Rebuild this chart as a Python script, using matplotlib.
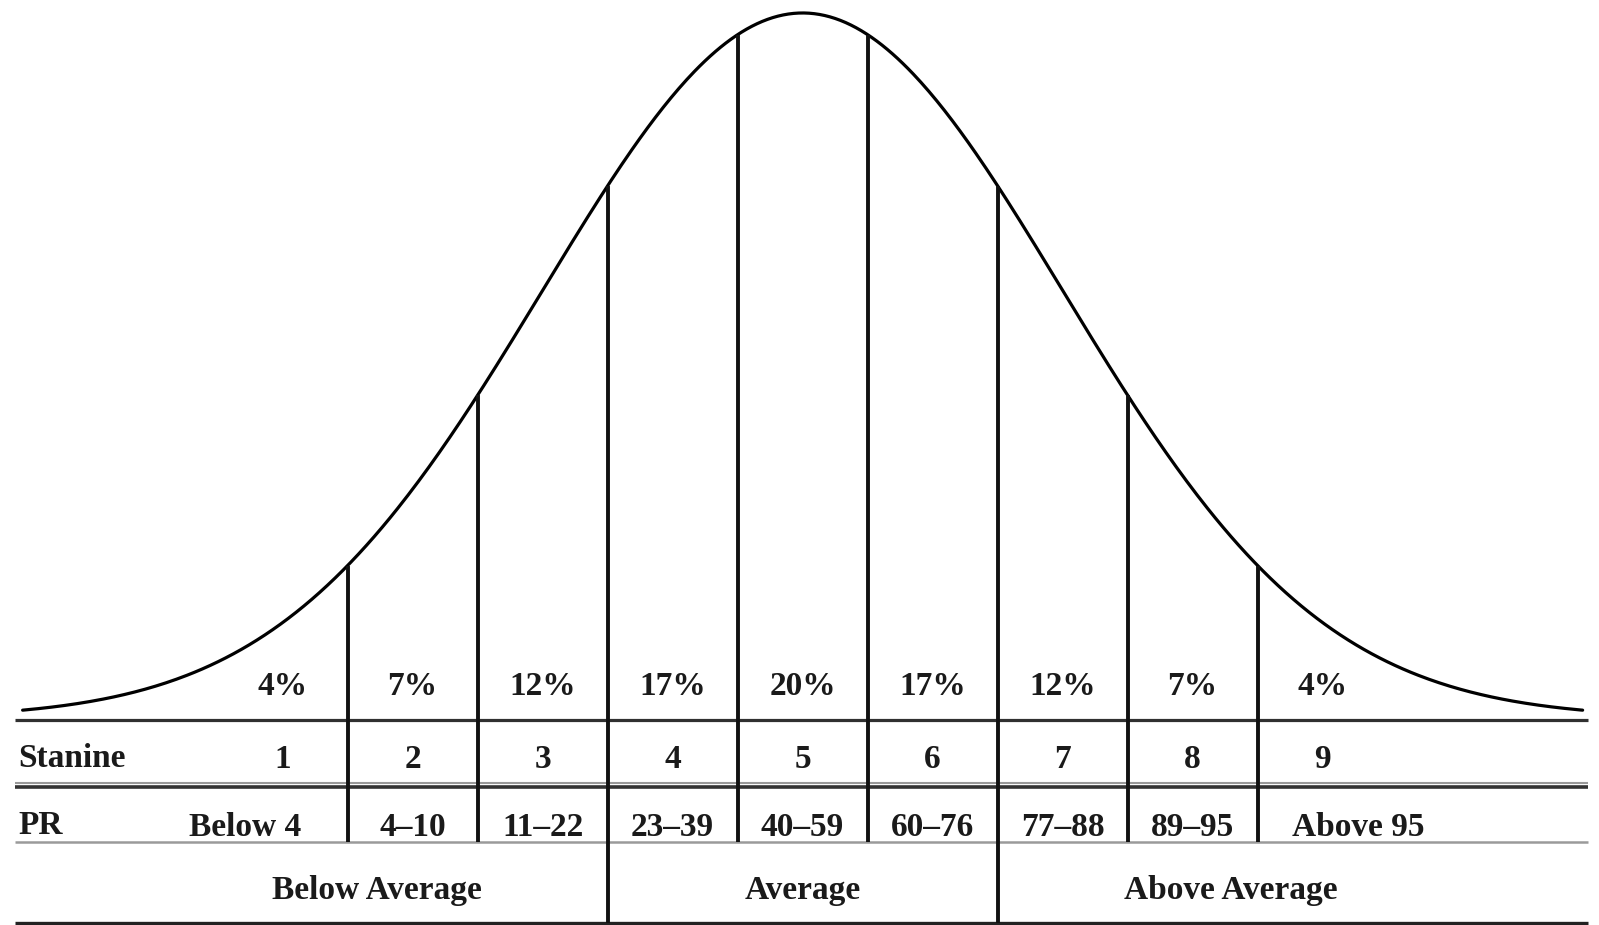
import numpy as np
from matplotlib import pyplot as plt

# stanine bands and their labels
percents = ['4%', '7%', '12%', '17%', '20%', '17%', '12%', '7%', '4%']
stanines = ['1', '2', '3', '4', '5', '6', '7', '8', '9']
pr_ranges = ['Below 4', '4\u201310', '11\u201322', '23\u201339', '40\u201359',
             '60\u201376', '77\u201388', '89\u201395', 'Above 95']
groups = ['Below Average', 'Average', 'Above Average']
# cut points between stanines, in standard deviations
cuts = [-1.75, -1.25, -0.75, -0.25, 0.25, 0.75, 1.25, 1.75]
group_cuts = [-0.75, 0.75]

plt.rcParams['font.family'] = ['Liberation Serif', 'DejaVu Serif']

fig = plt.figure(figsize=(15.99, 9.25), dpi=100)
ax = fig.add_axes([0, 0, 1, 1])
ax.axis('off')
ax.set_xlim(-3.087, 3.063)
ax.set_ylim(-0.2936, 1.0184)

# bell curve
x = np.linspace(-3.0, 3.0, 600)
ax.plot(x, np.exp(-x ** 2 / 2), color='black', lw=2.3, solid_capstyle='round')

# row levels
y_base = -0.003
y_mid = -0.098
y_pr = -0.176
y_bottom = -0.291
x_left, x_right = -3.03, 3.02

ax.hlines(y_base, x_left, x_right, color='#303030', lw=2.3)
ax.hlines(y_mid + 0.006, x_left, x_right, color='#999999', lw=1.5)
ax.hlines(y_mid, x_left, x_right, color='#333333', lw=2.6)
ax.hlines(y_pr, x_left, x_right, color='#9a9a9a', lw=1.8)
ax.hlines(y_bottom, x_left, x_right, color='#222222', lw=2.4)

# vertical separators
for c in cuts:
    top = np.exp(-c ** 2 / 2)
    bot = y_bottom if c in group_cuts else y_pr
    ax.vlines(c, bot, top, color='#111111', lw=2.8)

fs = 24
fw = 'bold'
centers = [(int(s) - 5) / 2 for s in stanines]
for i in range(len(stanines)):
    ax.text(centers[i], 0.044, percents[i], ha='center', va='center',
            fontsize=fs, fontweight=fw, color='#1a1a1a')
    ax.text(centers[i], -0.059, stanines[i], ha='center', va='center',
            fontsize=fs, fontweight=fw, color='#1a1a1a')

pr_x = list(centers)
pr_x[0] = -2.145
pr_x[-1] = 2.138
for i in range(len(pr_ranges)):
    ax.text(pr_x[i], -0.156, pr_ranges[i], ha='center', va='center',
            fontsize=fs, fontweight=fw, color='#1a1a1a')

ax.text(-3.017, -0.058, 'Stanine', ha='left', va='center', fontsize=fs,
        fontweight=fw, color='#1a1a1a')
ax.text(-3.017, -0.153, 'PR', ha='left', va='center', fontsize=fs,
        fontweight=fw, color='#1a1a1a')

group_x = [-1.636, 0.0, 1.647]
for i in range(len(groups)):
    ax.text(group_x[i], -0.244, groups[i], ha='center', va='center',
            fontsize=fs, fontweight=fw, color='#1a1a1a')

fig.savefig('out.png', dpi=100, facecolor='white')
